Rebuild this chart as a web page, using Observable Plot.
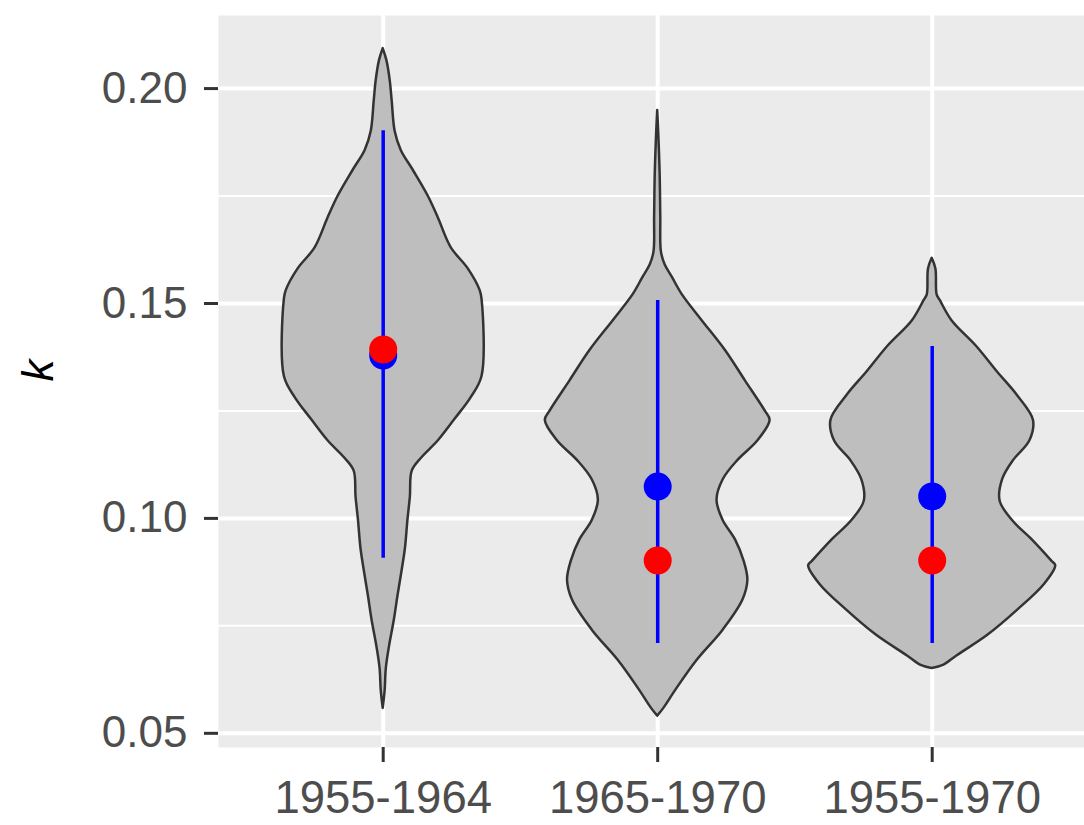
<!DOCTYPE html>
<html>
<head>
<meta charset="utf-8">
<script src="https://cdn.jsdelivr.net/npm/d3@7"></script>
<script src="https://cdn.jsdelivr.net/npm/@observablehq/plot@0.6"></script>
<style>
  html, body { margin: 0; padding: 0; background: #ffffff; }
  #chart svg { display: block; font-family: "Liberation Sans", Arial, sans-serif; }
</style>
</head>
<body>
<div id="chart"></div>
<script>
// Categories (x axis)
const categories = ["1955-1964", "1965-1970", "1955-1970"];

// Violin profiles: k values and relative density (1 = widest violin)
const k1955_1964 = [0.2093, 0.2065, 0.2018, 0.197, 0.190, 0.1856, 0.181, 0.175, 0.170, 0.163, 0.158, 0.153, 0.151, 0.133, 0.128, 0.123, 0.118, 0.114, 0.111, 0.105, 0.0995, 0.093, 0.088, 0.082, 0.0763, 0.070, 0.065, 0.060, 0.0558];
const d1955_1964 = [0, 0.03, 0.057, 0.073, 0.097, 0.146, 0.243, 0.364, 0.445, 0.55, 0.69, 0.785, 0.80, 0.80, 0.71, 0.58, 0.445, 0.31, 0.235, 0.22, 0.20, 0.18, 0.154, 0.12, 0.09, 0.05, 0.025, 0.016, 0];

const k1965_1970 = [0.1949, 0.19, 0.18, 0.17, 0.162, 0.159, 0.156, 0.152, 0.146, 0.139, 0.132, 0.125, 0.1228, 0.118, 0.1135, 0.109, 0.1042, 0.0995, 0.095, 0.090, 0.0856, 0.081, 0.074, 0.067, 0.060, 0.0558, 0.054];
const d1965_1970 = [0, 0.008, 0.02, 0.025, 0.03, 0.06, 0.12, 0.2, 0.36, 0.55, 0.71, 0.87, 0.91, 0.81, 0.65, 0.53, 0.48, 0.53, 0.63, 0.70, 0.73, 0.69, 0.53, 0.32, 0.146, 0.05, 0];

const k1955_1970 = [0.1605, 0.158, 0.152, 0.1507, 0.146, 0.140, 0.134, 0.1286, 0.1228, 0.118, 0.1135, 0.109, 0.104, 0.0995, 0.095, 0.090, 0.089, 0.0847, 0.0786, 0.0728, 0.068, 0.0658, 0.0651];
const d1955_1970 = [0, 0.03, 0.04, 0.065, 0.16, 0.36, 0.53, 0.69, 0.82, 0.79, 0.66, 0.57, 0.55, 0.65, 0.81, 0.97, 1.0, 0.91, 0.69, 0.45, 0.2, 0.09, 0];

// Interval (blue line) bounds and point estimates
const intervalLow  = [0.0907, 0.0709, 0.0709];
const intervalHigh = [0.1902, 0.1507, 0.1400];
const blueValues   = [0.1379, 0.1074, 0.1051];
const redValues    = [0.1393, 0.0902, 0.0902];

// Axis ticks
const majorTicks = [0.05, 0.10, 0.15, 0.20];
const minorTicks = [0.075, 0.125, 0.175];

// ---- build tables ----
const profiles = [[k1955_1964, d1955_1964], [k1965_1970, d1965_1970], [k1955_1970, d1955_1970]];
const violin = [];
profiles.forEach(([ks, ds], i) => ks.forEach((k, j) => violin.push({pos: i + 1, k, dens: ds[j]})));
const summary = categories.map((c, i) => ({
  pos: i + 1, lo: intervalLow[i], hi: intervalHigh[i], blue: blueValues[i], red: redValues[i]
}));
const halfWidth = 0.45; // ggplot violin width 0.9

const chart = Plot.plot({
  width: 1084,
  height: 825,
  marginLeft: 218,
  marginRight: 0,
  marginTop: 15,
  marginBottom: 78,
  style: {fontFamily: "Liberation Sans, Arial, sans-serif", background: "#ffffff"},
  x: {domain: [0.4, 3.6], range: [218, 1096.4], axis: null},
  y: {domain: [0.0467, 0.217], axis: null},
  marks: [
    Plot.frame({fill: "#EBEBEB", stroke: null}),
    Plot.ruleY(minorTicks, {stroke: "#ffffff", strokeWidth: 2}),
    Plot.ruleY(majorTicks, {stroke: "#ffffff", strokeWidth: 4}),
    Plot.ruleX([1, 2, 3], {stroke: "#ffffff", strokeWidth: 4}),
    Plot.areaX(violin, {
      y: "k",
      x1: d => d.pos - d.dens * halfWidth,
      x2: d => d.pos + d.dens * halfWidth,
      z: "pos",
      fill: "#BEBEBE",
      stroke: "#333333",
      strokeWidth: 2.5,
      curve: "catmull-rom"
    }),
    Plot.ruleX(summary, {x: "pos", y1: "lo", y2: "hi", stroke: "#0000FF", strokeWidth: 3.5}),
    Plot.dot(summary, {x: "pos", y: "blue", r: 14, fill: "#0000FF", stroke: null}),
    Plot.dot(summary, {x: "pos", y: "red", r: 14, fill: "#FF0000", stroke: null}),
    Plot.axisY(majorTicks, {
      tickSize: 14, tickPadding: 17, tickFormat: d3.format(".2f"),
      fontSize: 44, fill: "#4D4D4D", stroke: "#333333", strokeWidth: 3, label: null
    }),
    Plot.axisX([1, 2, 3], {
      tickSize: 15, tickPadding: 18, tickFormat: d => categories[d - 1],
      fontSize: 45.5, fill: "#4D4D4D", stroke: "#333333", strokeWidth: 3, label: null
    }),
    Plot.text(["k"], {
      frameAnchor: "left", dx: -180, rotate: -90, text: d => d,
      fontSize: 44, fontStyle: "italic", fill: "#000000"
    })
  ]
});
document.getElementById("chart").appendChild(chart);
</script>
</body>
</html>
